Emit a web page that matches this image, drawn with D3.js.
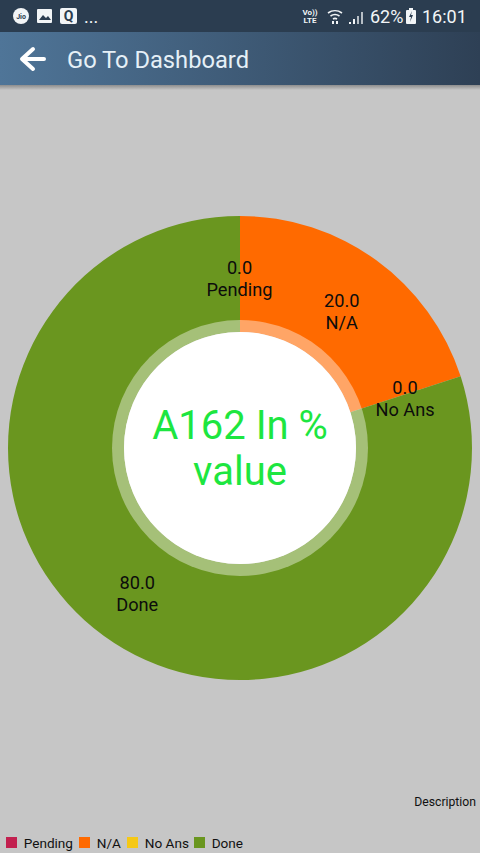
<!DOCTYPE html>
<html><head><meta charset="utf-8">
<script src="https://cdn.jsdelivr.net/npm/d3@7"></script>
<style>html,body{margin:0;padding:0;background:#c6c6c6;overflow:hidden}svg{display:block;font-family:Roboto,sans-serif}</style>
</head><body><svg id="c" width="480" height="853"></svg>
<script>
const categories=["Pending","N/A","No Ans","Done"];
const values=[0,20,0,80];
const colors=["#c2204f","#ff6a00","#f5c816","#6a961f"];
const centerLines=["A162 In %","value"];
const titleText="Go To Dashboard";
const descText="Description";
const statusText=["62%","16:01"];

const svg=d3.select("#c");
const defs=svg.append("defs");
const g=defs.append("linearGradient").attr("id","hdr");
g.append("stop").attr("offset","0").attr("stop-color","#4f7598");
g.append("stop").attr("offset","1").attr("stop-color","#2e4055");
const sh=defs.append("linearGradient").attr("id","sh").attr("x2",0).attr("y2",1);
sh.append("stop").attr("offset","0").attr("stop-color","#8d8d8d");
sh.append("stop").attr("offset","1").attr("stop-color","#c6c6c6");

svg.append("rect").attr("width",480).attr("height",853).attr("fill","#c6c6c6");
svg.append("rect").attr("y",85).attr("width",480).attr("height",5).attr("fill","url(#sh)");
svg.append("rect").attr("y",32).attr("width",480).attr("height",53).attr("fill","url(#hdr)");
svg.append("rect").attr("width",480).attr("height",32).attr("fill","#2b3d50");

// status bar
const sb=svg.append("g").attr("fill","#f2f5f7");
sb.append("circle").attr("cx",21).attr("cy",16).attr("r",8);
sb.append("text").attr("x",21).attr("y",18.5).attr("font-size",7).attr("font-weight",700).attr("text-anchor","middle").attr("fill","#2b3d50").text("Jio");
sb.append("rect").attr("x",37).attr("y",9).attr("width",15).attr("height",14).attr("rx",1);
sb.append("path").attr("d","M39 20l4-5 3 3 2-2 3 4z").attr("fill","#2b3d50");
sb.append("rect").attr("x",60).attr("y",8).attr("width",17).attr("height",16).attr("rx",2);
sb.append("text").attr("x",68.5).attr("y",21).attr("font-size",14).attr("font-weight",700).attr("text-anchor","middle").attr("fill","#2b3d50").text("Q");
sb.append("text").attr("x",84).attr("y",23).attr("font-size",18).text("...");
sb.append("text").attr("x",310).attr("y",15).attr("font-size",8).attr("font-weight",700).attr("text-anchor","middle").text("Vo))");
sb.append("text").attr("x",310).attr("y",23).attr("font-size",8).attr("font-weight",700).attr("text-anchor","middle").text("LTE");
const wifi=sb.append("g").attr("fill","none").attr("stroke","#f2f5f7").attr("stroke-width",1.6);
wifi.append("path").attr("d","M328 13a12 12 0 0 1 14 0");
wifi.append("path").attr("d","M330.5 16a8 8 0 0 1 9 0");
wifi.append("path").attr("d","M333 19a4 4 0 0 1 4 0");
sb.append("rect").attr("x",332).attr("y",21).attr("width",2).attr("height",3);
sb.append("rect").attr("x",336).attr("y",21).attr("width",2).attr("height",3);
[[349,22,2],[353,19,5],[357,16,8],[361,12,12]].forEach(b=>sb.append("rect").attr("x",b[0]).attr("y",b[1]).attr("width",2).attr("height",b[2]).attr("opacity",b[0]>356?.7:1));
sb.append("text").attr("x",370).attr("y",23).attr("font-size",18).text(statusText[0]);
sb.append("rect").attr("x",406).attr("y",10).attr("width",10).attr("height",14).attr("rx",1);
sb.append("rect").attr("x",409).attr("y",8).attr("width",4).attr("height",2);
sb.append("path").attr("d","M412 11l-3 6h2l-1 5 3-7h-2z").attr("fill","#2b3d50");
sb.append("text").attr("x",422).attr("y",23).attr("font-size",18).text(statusText[1]);

// header
svg.append("path").attr("d","M44 59H23M33 49L22 59L33 69").attr("fill","none").attr("stroke","#fff").attr("stroke-width",4).attr("stroke-linecap","round").attr("stroke-linejoin","round");
svg.append("text").attr("x",67).attr("y",68).attr("font-size",23.7).attr("fill","#e6f0f7").text(titleText);

// donut
const cx=240,cy=448,R=232,hole=116,ring=128,labelR=174;
const pie=d3.pie().sort(null).value(d=>d)(values);
const arc=d3.arc().innerRadius(hole).outerRadius(R);
const chart=svg.append("g").attr("transform",`translate(${cx},${cy})`);
chart.selectAll("path.s").data(pie).join("path").attr("class","s").attr("d",arc).attr("fill",(d,i)=>colors[i]);
chart.append("circle").attr("r",ring).attr("fill","#fff").attr("opacity",.4);
chart.append("circle").attr("r",hole).attr("fill","#fff");
const lab=chart.selectAll("g.l").data(pie).join("g").attr("class","l")
  .attr("transform",d=>{const a=(d.startAngle+d.endAngle)/2;return `translate(${labelR*Math.sin(a)-0.5},${-labelR*Math.cos(a)})`;})
  .attr("text-anchor","middle").attr("font-size",18.2).attr("fill","#0c0c0c");
lab.append("text").attr("y",0).text(d=>d.value.toFixed(1));
lab.append("text").attr("y",22).text((d,i)=>categories[i]);
chart.selectAll("text.c").data(centerLines).join("text").attr("class","c").attr("text-anchor","middle")
  .attr("y",(d,i)=>-9+i*46).attr("font-size",40).attr("fill","#1de640").text(d=>d);

// description + legend
svg.append("text").attr("x",476).attr("y",806).attr("text-anchor","end").attr("font-size",12.2).attr("fill","#111").text(descText);
const legX=[6,79,127,194];
const leg=svg.selectAll("g.k").data(categories).join("g").attr("class","k").attr("transform",(d,i)=>`translate(${legX[i]},837)`);
leg.append("rect").attr("width",11).attr("height",11).attr("fill",(d,i)=>colors[i]);
leg.append("text").attr("x",17.7).attr("y",11).attr("font-size",13.6).attr("fill","#111").text(d=>d);
</script></body></html>
